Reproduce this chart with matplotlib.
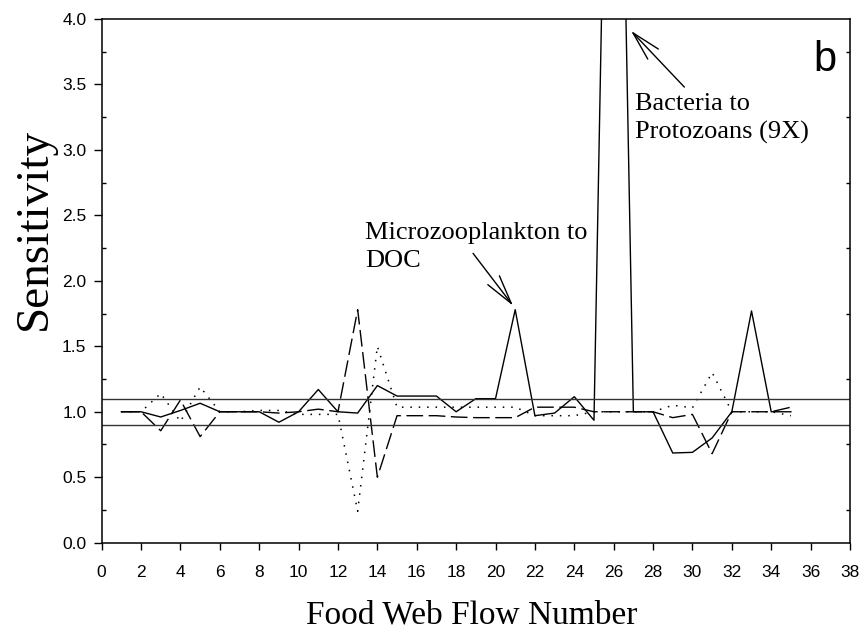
#!/usr/bin/env python3
"""Sensitivity of food web flows, panel b."""

import matplotlib
matplotlib.use("Agg")
import matplotlib.pyplot as plt

SERIF = ["Liberation Serif", "DejaVu Serif"]
SANS = ["Liberation Sans", "DejaVu Sans"]

flow = list(range(1, 36))
solid_vals = [1.0, 1.0, 0.96, 1.01, 1.065, 1.0, 1.0, 1.0, 0.92, 1.0,
              1.17, 1.0, 0.99, 1.2, 1.12, 1.12, 1.12, 1.0, 1.1, 1.1,
              1.78, 0.97, 0.99, 1.115, 0.935, 9.0, 1.0, 1.0, 0.685, 0.69,
              0.8, 1.0, 1.77, 1.0, 1.0]
dashed_vals = [1.0, 1.0, 0.855, 1.09, 0.81, 1.0, 1.0, 1.0, 0.99, 1.0,
               1.02, 1.0, 1.78, 0.5, 0.97, 0.97, 0.97, 0.96, 0.955, 0.955,
               0.955, 1.035, 1.035, 1.035, 1.0, 1.0, 1.0, 1.0, 0.955, 0.98,
               0.68, 1.0, 1.0, 1.0, 1.035]
dotted_vals = [1.0, 1.0, 1.14, 0.925, 1.19, 1.0, 1.0, 1.01, 1.01, 0.98,
               0.98, 0.98, 0.24, 1.5, 1.035, 1.035, 1.035, 1.035, 1.035, 1.035,
               1.035, 0.97, 0.97, 0.97, 1.0, 1.0, 1.0, 1.0, 1.05, 1.03,
               1.3, 1.0, 1.0, 1.0, 0.97]
ref_levels = [1.1, 0.9]

x_ticks = list(range(0, 39, 2))
y_major = [0.0, 0.5, 1.0, 1.5, 2.0, 2.5, 3.0, 3.5, 4.0]
y_minor = [0.25, 0.75, 1.25, 1.75, 2.25, 2.75, 3.25, 3.75]

fig = plt.figure(figsize=(8.66, 6.38), dpi=100)
ax = fig.add_axes([0.1174, 0.1494, 0.8641, 0.8208])

ax.plot(flow, solid_vals, color="black", lw=1.0)
ax.plot(flow, dashed_vals, color="black", lw=1.0, dashes=(12, 4))
ax.plot(flow, dotted_vals, color="black", lw=1.1, dashes=(1, 4.5))
for lvl in ref_levels:
    ax.axhline(lvl, color="#333333", lw=1.0)

ax.set_xlim(0, 38)
ax.set_ylim(0, 4)
ax.set_xticks(x_ticks)
ax.set_yticks(y_major)
ax.set_yticks(y_minor, minor=True)
ax.set_yticklabels([f"{v:.1f}" for v in y_major])

ax.tick_params(axis="x", which="major", direction="out", length=5, width=1.0,
               pad=11, labelsize=12.5, top=False)
ax.tick_params(axis="y", which="major", direction="out", length=6, width=1.0,
               pad=5, labelsize=12.5, right=False)
ax.tick_params(axis="y", which="minor", direction="in", length=3, width=1.0,
               left=True, right=True)
for lab in ax.get_xticklabels() + ax.get_yticklabels():
    lab.set_family(SANS)
for sp in ax.spines.values():
    sp.set_linewidth(1.1)

ax.set_xlabel("Food Web Flow Number", family=SERIF, fontsize=24)
ax.xaxis.label.set_va("center")
ax.xaxis.set_label_coords(0.495, -0.138)
ax.set_ylabel("Sensitivity", family=SERIF, fontsize=34)
ax.yaxis.label.set_va("center")
ax.yaxis.set_label_coords(-0.09, 0.60)

arrow = dict(arrowstyle="->,head_length=1.4,head_width=0.35", color="black",
             lw=1.0, shrinkA=0, shrinkB=0, mutation_scale=15)
ax.annotate("", xy=(20.89, 1.81), xytext=(18.86, 2.21), arrowprops=arrow)
ax.text(13.37, 2.26, "Microzooplankton to\nDOC", family=SERIF, fontsize=19,
        ha="left", va="center", linespacing=1.35)

ax.annotate("", xy=(26.88, 3.91), xytext=(29.59, 3.48), arrowprops=arrow)
ax.text(27.09, 3.24, "Bacteria to\nProtozoans (9X)", family=SERIF, fontsize=19,
        ha="left", va="center", linespacing=1.35)

ax.text(36.74, 3.69, "b", family=SANS, fontsize=30, ha="center", va="center")

fig.savefig("out.png", dpi=100)
